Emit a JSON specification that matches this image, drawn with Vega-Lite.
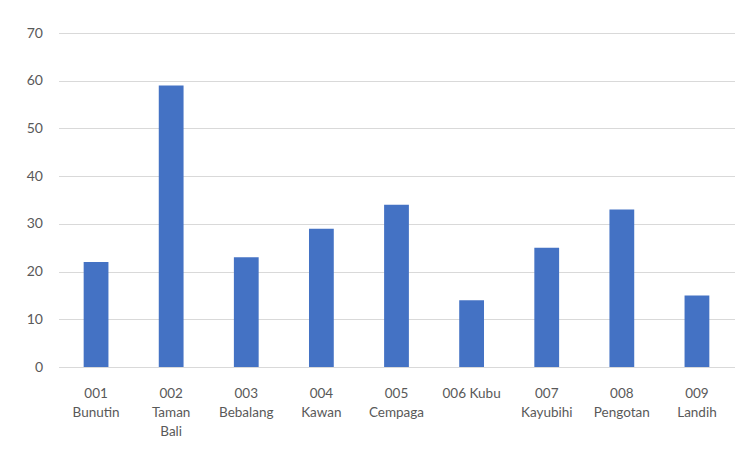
{
  "$schema": "https://vega.github.io/schema/vega-lite/v6.json",
  "width": 676,
  "height": 334,
  "autosize": {"type": "none"},
  "padding": {"left": 58.5, "top": 33, "right": 20, "bottom": 88},
  "background": "white",
  "config": {
    "view": {"stroke": null},
    "font": "Lato"
  },
  "data": {
    "values": [
      {"desa": "001|Bunutin", "nilai": 22},
      {"desa": "002|Taman|Bali", "nilai": 59},
      {"desa": "003|Bebalang", "nilai": 23},
      {"desa": "004|Kawan", "nilai": 29},
      {"desa": "005|Cempaga", "nilai": 34},
      {"desa": "006 Kubu", "nilai": 14},
      {"desa": "007|Kayubihi", "nilai": 25},
      {"desa": "008|Pengotan", "nilai": 33},
      {"desa": "009|Landih", "nilai": 15}
    ]
  },
  "mark": {"type": "bar", "color": "#4472C4"},
  "encoding": {
    "x": {
      "field": "desa",
      "type": "nominal",
      "sort": null,
      "title": null,
      "scale": {"paddingInner": 0.67, "paddingOuter": 0.335},
      "axis": {
        "labelExpr": "split(datum.value, '|')",
        "labelAngle": 0,
        "labelFontSize": 13.5,
        "labelLineHeight": 19,
        "labelColor": "#595959",
        "labelPadding": 19,
        "labelBaseline": "top",
        "ticks": false,
        "domain": false,
        "labelLimit": 200
      }
    },
    "y": {
      "field": "nilai",
      "type": "quantitative",
      "title": null,
      "scale": {"domain": [0, 70], "nice": false},
      "axis": {
        "values": [0, 10, 20, 30, 40, 50, 60, 70],
        "labelFontSize": 14,
        "labelColor": "#595959",
        "labelPadding": 16,
        "ticks": false,
        "domain": false,
        "gridColor": "#d9d9d9",
        "gridWidth": 1
      }
    }
  }
}
